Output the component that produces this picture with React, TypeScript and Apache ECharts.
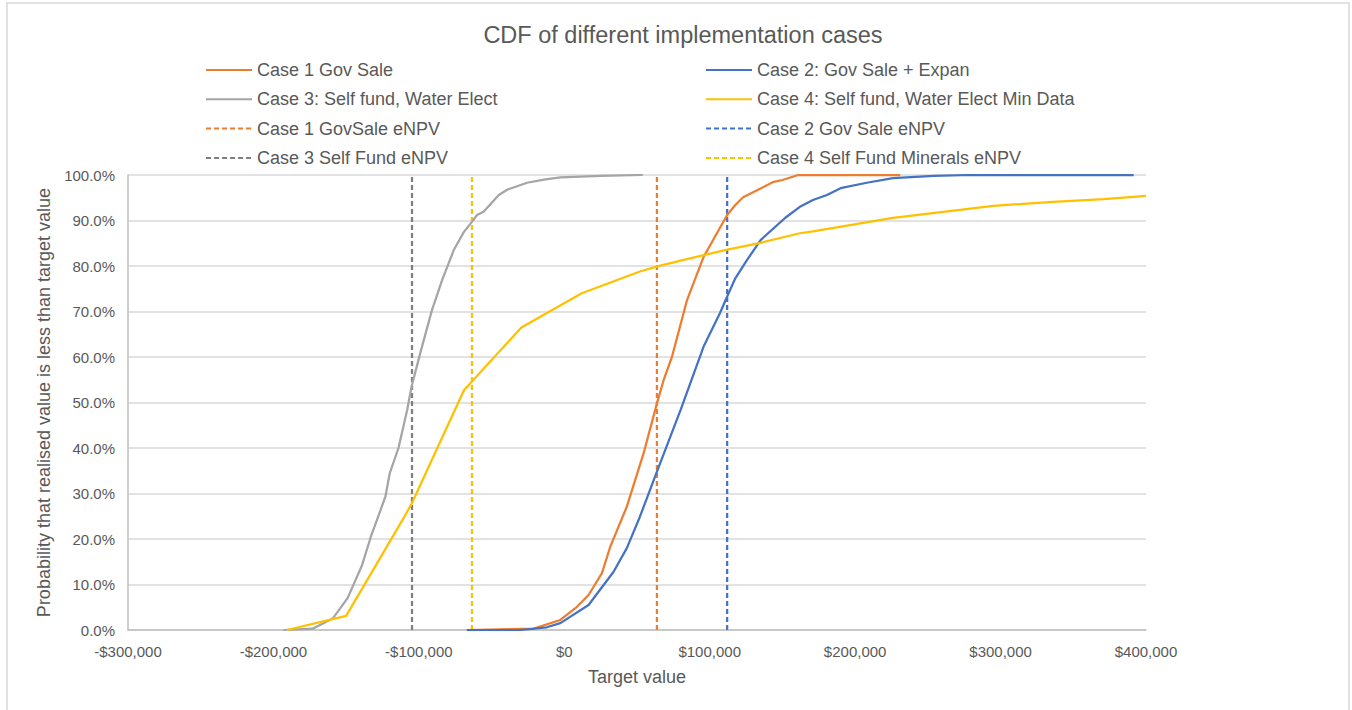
import React, { useEffect, useRef } from "react";
import * as echarts from "echarts";

const titleText = "CDF of different implementation cases";
const xAxisName = "Target value";
const yAxisName = "Probability that realised value is less than target value";

// Case 1 Gov Sale (x in $, y in %)
const case1X = [-67000, -21000, -2700, 8700, 16700, 25900, 31600, 43000, 54500, 63700, 68300, 74000, 84400, 95800, 112000, 117600, 123000, 144000, 150000, 161000, 231000];
const case1Y = [0, 0.3, 2.2, 5.1, 7.7, 12.5, 18.3, 27.1, 38.8, 49.8, 54.9, 60, 72.5, 82, 91.2, 93.4, 95.1, 98.5, 98.9, 100, 100];

// Case 2: Gov Sale + Expan
const case2X = [-67000, -30000, -12000, -2700, 16700, 33900, 43000, 52000, 63700, 80000, 95800, 107000, 112000, 117600, 125600, 135000, 152000, 162000, 171000, 180600, 190000, 208000, 226000, 254000, 280000, 391500];
const case2Y = [0, 0, 0.6, 1.5, 5.5, 12.8, 18, 24.9, 34.8, 48.4, 62.3, 69.6, 73.3, 77.3, 81.3, 85.7, 90.6, 93, 94.5, 95.6, 97.1, 98.3, 99.3, 99.8, 100, 100];

// Case 3: Self fund, Water Elect
const case3X = [-193000, -173000, -159000, -149000, -139000, -133000, -123000, -120000, -114000, -108000, -105000, -99000, -91000, -84000, -76000, -69000, -63500, -60000, -55500, -45000, -39000, -30000, -25600, -14000, -2700, 25000, 54000];
const case3Y = [0, 0.3, 2.6, 7, 14.3, 20.5, 29.3, 34.5, 40, 48.4, 53.5, 60.9, 70.3, 76.9, 83.5, 87.5, 89.7, 91.2, 91.9, 95.6, 96.8, 97.8, 98.3, 99.0, 99.5, 99.8, 100];

// Case 4: Self fund, Water Elect Min Data
const case4X = [-190700, -150000, -110500, -104700, -69000, -63500, -29500, 12000, 52000, 64000, 80000, 112000, 135000, 162000, 171000, 226000, 295000, 336000, 371000, 400000];
const case4Y = [0, 3.1, 24.6, 27.9, 52.7, 54.6, 66.5, 74, 78.8, 79.9, 81.2, 83.6, 85.1, 87.2, 87.6, 90.6, 93.2, 94.1, 94.7, 95.4];

// eNPV markers
const eNPVNames = ["Case 1 GovSale eNPV", "Case 2 Gov Sale eNPV", "Case 3 Self Fund eNPV", "Case 4 Self Fund Minerals eNPV"];
const eNPVValues = [63700, 112000, -104700, -63500];

const cdfNames = ["Case 1 Gov Sale", "Case 2: Gov Sale + Expan", "Case 3: Self fund, Water Elect", "Case 4: Self fund, Water Elect Min Data"];

const FONT = "Liberation Sans";
const TXT = "#595959";

function zip(xs: number[], ys: number[]) {
  return xs.map((x, i) => [x, ys[i]]);
}

function fmtMoney(v: number) {
  const a = Math.abs(v).toLocaleString("en-US");
  return (v < 0 ? "-$" : "$") + a;
}

export default function App() {
  const ref = useRef<HTMLDivElement>(null);
  useEffect(() => {
    document.body.style.margin = "0";
    if (!ref.current) return;
    const chart = echarts.init(ref.current, undefined, { renderer: "svg" });

    const cdfColors = ["#ED7D31", "#4472C4", "#A5A5A5", "#FFC000"];
    const eColors = ["#ED7D31", "#4472C4", "#7F7F7F", "#FFC000"];
    const cdfData = [zip(case1X, case1Y), zip(case2X, case2Y), zip(case3X, case3Y), zip(case4X, case4Y)];

    const series: any[] = [];
    cdfNames.forEach((n, i) => {
      series.push({
        name: n,
        type: "line",
        data: cdfData[i],
        showSymbol: false,
        symbol: "none",
        lineStyle: { color: cdfColors[i], width: 2.25 },
        itemStyle: { color: cdfColors[i] },
        z: 3,
      });
    });
    eNPVNames.forEach((n, i) => {
      series.push({
        name: n,
        type: "line",
        data: [[eNPVValues[i], 0], [eNPVValues[i], 100]],
        showSymbol: false,
        symbol: "none",
        lineStyle: { color: eColors[i], width: 2.25, type: [5, 3] },
        itemStyle: { color: eColors[i] },
        z: 2,
      });
    });

    const legendCommon = {
      orient: "vertical",
      top: 61,
      padding: 0,
      itemWidth: 46,
      itemHeight: 14,
      itemGap: 11.3,
      itemStyle: { opacity: 0 },
      textStyle: { color: TXT, fontSize: 18, fontFamily: FONT, lineHeight: 18 },
    };

    chart.setOption({
      animation: false,
      backgroundColor: "#fff",
      title: {
        text: titleText,
        left: 678,
        top: 18,
        textAlign: "center",
        textStyle: { color: TXT, fontSize: 23.5, fontWeight: "normal", fontFamily: FONT },
      },
      legend: [
        { ...legendCommon, left: 205, data: [cdfNames[0], cdfNames[2], eNPVNames[0], eNPVNames[2]] },
        { ...legendCommon, left: 705, data: [cdfNames[1], cdfNames[3], eNPVNames[1], eNPVNames[3]] },
      ],
      grid: { left: 128, top: 175, right: 206, bottom: 80, containLabel: false },
      xAxis: {
        type: "value",
        min: -300000,
        max: 400000,
        interval: 100000,
        name: xAxisName,
        nameLocation: "middle",
        nameGap: 38,
        nameTextStyle: { color: TXT, fontSize: 18, fontFamily: FONT },
        axisLine: { show: true, onZero: false, lineStyle: { color: "#BFBFBF", width: 1.5 } },
        axisTick: { show: false },
        splitLine: { show: false },
        axisLabel: {
          color: TXT,
          fontSize: 15,
          fontFamily: FONT,
          margin: 14,
          formatter: (v: number) => fmtMoney(v),
        },
      },
      yAxis: {
        type: "value",
        min: 0,
        max: 100,
        interval: 10,
        name: yAxisName,
        nameLocation: "middle",
        nameGap: 69,
        nameTextStyle: { color: TXT, fontSize: 18, fontFamily: FONT },
        axisLine: { show: true, onZero: false, lineStyle: { color: "#BFBFBF", width: 1.5 } },
        axisTick: { show: false },
        splitLine: { show: true, lineStyle: { color: "#D9D9D9", width: 1.5 } },
        axisLabel: {
          color: TXT,
          fontSize: 15,
          fontFamily: FONT,
          margin: 13,
          formatter: (v: number) => v.toFixed(1) + "%",
        },
      },
      graphic: [
        {
          type: "rect",
          shape: { x: 7, y: 3, width: 1342, height: 730 },
          style: { fill: "none", stroke: "#D9D9D9", lineWidth: 1.5 },
          silent: true,
        },
      ],
      series,
    });
    return () => chart.dispose();
  }, []);
  return <div ref={ref} style={{ width: 1352, height: 710 }} />;
}
